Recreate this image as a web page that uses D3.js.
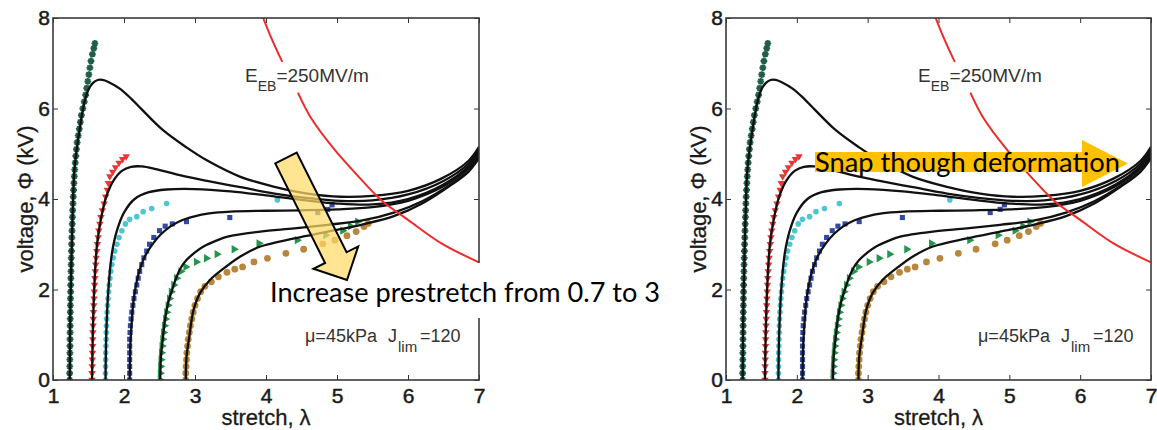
<!DOCTYPE html>
<html><head><meta charset="utf-8">
<script src="https://cdn.jsdelivr.net/npm/d3@7"></script>
<style>body{margin:0;background:#fff}svg{display:block}</style>
</head><body>
<svg id="chart" width="1157" height="430"></svg>
<script>
// ---------- data (stretch λ, voltage Φ in kV) ----------
const xTicks = [1, 2, 3, 4, 5, 6, 7];
const yTicks = [0, 2, 4, 6, 8];
const xLabel = "stretch, λ";
const yLabel = "voltage, Φ (kV)";
const ebLabel = ["E", "EB", "=250MV/m"];
const matLabel = ["μ=45kPa", "J", "lim", "=120"];

// model curves (black), prestretch from low to high
const model1 = [[1.235,0],[1.24,1],[1.25,2],[1.265,3],[1.283,4],[1.3,4.62],[1.33,5.05],[1.36,5.38],[1.41,5.88],[1.45,6.18],[1.5,6.42],[1.56,6.56],[1.63,6.63],[1.7,6.63],[1.8,6.57],[1.94,6.44],[2.1,6.22],[2.25,5.98],[2.55,5.52],[2.88,5.14],[3.16,4.86],[3.64,4.49],[4.12,4.27],[4.59,4.12],[5.05,4.05],[5.5,4.07],[6.0,4.18],[6.47,4.45],[6.85,4.84],[7.0,5.15]];
const model2 = [[1.55,0],[1.56,1],[1.58,2],[1.62,3],[1.68,3.6],[1.75,4.05],[1.85,4.4],[1.97,4.62],[2.1,4.71],[2.25,4.72],[2.45,4.66],[2.8,4.52],[3.17,4.4],[3.64,4.26],[4.12,4.12],[4.59,4.02],[5.05,3.96],[5.5,3.97],[6.0,4.1],[6.5,4.4],[6.85,4.78],[7.0,5.1]];
const model3 = [[1.74,0],[1.75,1],[1.78,2],[1.83,2.8],[1.9,3.3],[2.0,3.7],[2.15,4.0],[2.35,4.15],[2.6,4.21],[3.0,4.22],[3.5,4.17],[4.0,4.08],[4.5,3.98],[5.0,3.9],[5.5,3.88],[6.0,4.0],[6.5,4.32],[6.85,4.72],[7.0,5.05]];
const model4 = [[2.08,0],[2.09,0.8],[2.11,1.3],[2.13,1.7],[2.17,2.1],[2.22,2.43],[2.3,2.75],[2.41,3.02],[2.52,3.22],[2.65,3.39],[2.8,3.52],[2.98,3.61],[3.2,3.68],[3.5,3.72],[4.0,3.74],[4.5,3.75],[5.0,3.77],[5.5,3.82],[6.0,3.96],[6.5,4.28],[6.85,4.68],[7.0,5.0]];
const model5 = [[2.51,0],[2.52,0.5],[2.55,0.96],[2.58,1.35],[2.62,1.69],[2.68,2.0],[2.74,2.28],[2.8,2.48],[2.88,2.65],[3.0,2.82],[3.12,2.95],[3.3,3.08],[3.46,3.17],[3.92,3.28],[4.4,3.35],[4.87,3.43],[5.34,3.52],[5.8,3.7],[6.2,3.95],[6.6,4.32],[6.85,4.62],[7.0,4.95]];
const model6 = [[2.87,0],[2.88,0.5],[2.92,0.96],[2.98,1.55],[3.07,1.92],[3.21,2.21],[3.45,2.52],[3.65,2.74],[3.92,2.95],[4.4,3.13],[4.87,3.28],[5.34,3.43],[5.8,3.62],[6.2,3.9],[6.6,4.3],[6.85,4.6],[7.0,4.9]];
const modelCurves = [model1, model2, model3, model4, model5, model6];

// electrical breakdown line (red), split where the label sits
const breakdownTop = [[3.96,8.0],[4.05,7.65],[4.14,7.33],[4.23,7.03]];
const breakdownBottom = [[4.45,6.35],[4.63,5.8],[4.96,5.1],[5.3,4.5],[5.62,3.98],[6.0,3.54],[6.47,3.02],[7.0,2.6]];

// experiments (markers)
const expDarkGreen = [[1.235,0],[1.235,0.15],[1.236,0.3],[1.237,0.45],[1.238,0.6],[1.239,0.75],[1.24,0.9],[1.241,1.05],[1.242,1.2],[1.243,1.35],[1.244,1.5],[1.245,1.65],[1.246,1.8],[1.248,1.95],[1.249,2.1],[1.251,2.25],[1.253,2.4],[1.255,2.55],[1.257,2.7],[1.26,2.85],[1.262,3.0],[1.265,3.15],[1.268,3.3],[1.271,3.45],[1.274,3.6],[1.277,3.75],[1.281,3.9],[1.285,4.05],[1.29,4.2],[1.295,4.35],[1.3,4.5],[1.306,4.65],[1.313,4.8],[1.321,4.95],[1.33,5.1],[1.34,5.25],[1.355,5.4],[1.37,5.55],[1.385,5.7],[1.4,5.85],[1.42,6.0],[1.44,6.15],[1.46,6.3],[1.475,6.45],[1.49,6.6],[1.505,6.75],[1.52,6.9],[1.535,7.05],[1.555,7.2],[1.575,7.33],[1.59,7.44]];
const expRed = [[1.55,0],[1.55,0.15],[1.552,0.3],[1.554,0.45],[1.556,0.6],[1.558,0.75],[1.56,0.9],[1.562,1.05],[1.565,1.2],[1.568,1.35],[1.571,1.5],[1.574,1.65],[1.578,1.8],[1.582,1.95],[1.586,2.1],[1.59,2.25],[1.596,2.4],[1.602,2.55],[1.609,2.7],[1.617,2.85],[1.626,3.0],[1.635,3.15],[1.646,3.3],[1.66,3.45],[1.675,3.6],[1.695,3.75],[1.72,3.9],[1.742,4.05],[1.765,4.2],[1.78,4.35],[1.8,4.5],[1.84,4.6],[1.88,4.7],[1.93,4.8],[1.98,4.88],[2.03,4.94]];
const expCyan = [[1.74,0],[1.74,0.15],[1.741,0.3],[1.742,0.45],[1.744,0.6],[1.746,0.75],[1.748,0.9],[1.75,1.05],[1.753,1.2],[1.757,1.35],[1.762,1.5],[1.768,1.65],[1.775,1.8],[1.783,1.95],[1.792,2.1],[1.802,2.25],[1.815,2.4],[1.83,2.55],[1.848,2.7],[1.87,2.85],[1.9,3.0],[1.93,3.15],[1.97,3.3],[2.02,3.45],[2.08,3.55],[2.18,3.61],[2.27,3.72],[2.39,3.79],[2.6,3.9],[4.16,3.98]];
const expBlue = [[2.08,0],[2.08,0.15],[2.08,0.3],[2.08,0.45],[2.08,0.6],[2.08,0.75],[2.08,0.9],[2.085,1.05],[2.09,1.2],[2.1,1.35],[2.11,1.5],[2.125,1.65],[2.14,1.8],[2.16,1.95],[2.18,2.1],[2.2,2.25],[2.22,2.4],[2.25,2.55],[2.28,2.7],[2.32,2.85],[2.36,3.0],[2.42,3.15],[2.5,3.3],[2.58,3.4],[2.68,3.45],[2.88,3.5],[3.49,3.59],[4.73,3.7],[4.87,3.77],[4.93,3.87]];
const expGreen = [[2.51,0],[2.51,0.15],[2.515,0.3],[2.52,0.45],[2.527,0.6],[2.535,0.75],[2.545,0.9],[2.556,1.05],[2.57,1.2],[2.585,1.35],[2.6,1.5],[2.62,1.65],[2.64,1.8],[2.665,1.95],[2.7,2.1],[2.74,2.25],[2.8,2.4],[2.87,2.5],[3.02,2.61],[3.16,2.69],[3.31,2.78],[3.55,2.89],[3.9,3.02],[4.44,3.09],[4.84,3.2],[5.08,3.3],[5.19,3.4],[5.29,3.5]];
const expBrown = [[2.87,0],[2.87,0.15],[2.875,0.3],[2.88,0.45],[2.885,0.6],[2.895,0.75],[2.905,0.9],[2.92,1.05],[2.935,1.2],[2.955,1.35],[2.975,1.5],[3.0,1.65],[3.035,1.8],[3.08,1.95],[3.14,2.07],[3.23,2.17],[3.33,2.28],[3.45,2.38],[3.56,2.45],[3.67,2.5],[3.83,2.61],[4.02,2.69],[4.28,2.8],[4.53,2.89],[4.8,3.01],[4.97,3.09],[5.14,3.19],[5.27,3.28],[5.38,3.39],[5.44,3.46]];

// ---------- drawing ----------
const svg = d3.select("#chart");
const FONT = "'Liberation Sans', Arial, sans-serif";
const panels = [{x0: 53, x1: 479}, {x0: 726, x1: 1151}];
const yTop = 18, yBot = 380;

const star = "M-3.4,0H3.4M0,-3.4V3.4M-2.4,-2.4L2.4,2.4M-2.4,2.4L2.4,-2.4";
const triDown = d3.symbol().type(d3.symbolTriangle).size(24)();
const triRight = d3.symbol().type(d3.symbolTriangle).size(30)();
const square = d3.symbol().type(d3.symbolSquare).size(26)();

function drawPanel(p, idx) {
  const x = d3.scaleLinear().domain([1, 7]).range([p.x0, p.x1]);
  const y = d3.scaleLinear().domain([0, 8]).range([yBot, yTop]);
  const g = svg.append("g");
  const line = d3.line().x(d => x(d[0])).y(d => y(d[1])).curve(d3.curveCatmullRom.alpha(0.5));

  const clip = "clip" + idx;
  svg.append("clipPath").attr("id", clip).append("rect")
    .attr("x", p.x0).attr("y", yTop).attr("width", p.x1 - p.x0).attr("height", yBot - yTop);
  const plot = g.append("g").attr("clip-path", `url(#${clip})`);

  // markers
  plot.append("g").selectAll("path").data(expDarkGreen).join("path")
    .attr("d", star).attr("transform", d => `translate(${x(d[0])},${y(d[1])})`)
    .attr("stroke", "#1f5f48").attr("stroke-width", 1.9).attr("fill", "none");
  plot.append("g").selectAll("path").data(expRed).join("path")
    .attr("d", triDown).attr("transform", d => `translate(${x(d[0])},${y(d[1])}) rotate(180)`)
    .attr("fill", "#ee3434");
  plot.append("g").selectAll("circle").data(expCyan).join("circle")
    .attr("cx", d => x(d[0])).attr("cy", d => y(d[1])).attr("r", 2.8).attr("fill", "#4dc6d2");
  plot.append("g").selectAll("path").data(expBlue).join("path")
    .attr("d", square).attr("transform", d => `translate(${x(d[0])},${y(d[1])})`)
    .attr("fill", "#3349a6");
  plot.append("g").selectAll("path").data(expGreen).join("path")
    .attr("d", triRight).attr("transform", d => `translate(${x(d[0])},${y(d[1])}) rotate(90)`)
    .attr("fill", "#25944c");
  plot.append("g").selectAll("circle").data(expBrown).join("circle")
    .attr("cx", d => x(d[0])).attr("cy", d => y(d[1])).attr("r", 3.4).attr("fill", "#b8873d");

  // model curves
  plot.append("g").selectAll("path").data(modelCurves).join("path")
    .attr("d", line).attr("fill", "none").attr("stroke", "#111").attr("stroke-width", 2.3);

  // breakdown line
  plot.append("g").selectAll("path").data([breakdownTop, breakdownBottom]).join("path")
    .attr("d", line).attr("fill", "none").attr("stroke", "#ee2b2b").attr("stroke-width", 2);

  // axes
  const axStyle = sel => {
    sel.select(".domain").remove();
    sel.selectAll(".tick line").attr("stroke", "#333").attr("stroke-width", 1);
    sel.selectAll(".tick text").attr("font-family", FONT).attr("font-size", 21).attr("fill", "#1a1a1a")
      .attr("stroke", "#1a1a1a").attr("stroke-width", 0.5);
  };
  g.append("g").attr("transform", `translate(0,${yBot})`)
    .call(d3.axisBottom(x).tickValues(xTicks).tickSize(-5).tickPadding(8).tickFormat(d3.format("d"))).call(axStyle);
  g.append("g").attr("transform", `translate(0,${yTop})`)
    .call(d3.axisTop(x).tickValues(xTicks).tickSize(-5).tickFormat("")).call(axStyle);
  g.append("g").attr("transform", `translate(${p.x0},0)`)
    .call(d3.axisLeft(y).tickValues(yTicks).tickSize(-5).tickPadding(3).tickFormat(d3.format("d"))).call(axStyle);
  g.append("g").attr("transform", `translate(${p.x1},0)`)
    .call(d3.axisRight(y).tickValues(yTicks).tickSize(-5).tickFormat("")).call(axStyle);

  g.append("rect").attr("x", p.x0).attr("y", yTop).attr("width", p.x1 - p.x0).attr("height", yBot - yTop)
    .attr("fill", "none").attr("stroke", "#3a3a3a").attr("stroke-width", 1.6);

  // axis titles
  g.append("text").attr("x", (p.x0 + p.x1) / 2).attr("y", 425).attr("text-anchor", "middle")
    .attr("font-family", FONT).attr("font-size", 22).attr("fill", "#1a1a1a")
    .attr("stroke", "#1a1a1a").attr("stroke-width", 0.3).text(xLabel);
  g.append("text").attr("transform", `translate(${p.x0 - 20},199) rotate(-90)`).attr("text-anchor", "middle")
    .attr("font-family", FONT).attr("font-size", 22).attr("fill", "#1a1a1a")
    .attr("stroke", "#1a1a1a").attr("stroke-width", 0.3).text(yLabel);

  // in-plot labels
  const eb = g.append("text").attr("x", p.x0 + 192).attr("y", 82)
    .attr("font-family", FONT).attr("font-size", 19).attr("fill", "#333");
  eb.append("tspan").text(ebLabel[0]);
  eb.append("tspan").attr("font-size", 14).attr("dy", 9).text(ebLabel[1]);
  eb.append("tspan").attr("dy", -9).text(ebLabel[2]);

  const ml = g.append("g").attr("font-family", FONT).attr("fill", "#333");
  ml.append("text").attr("x", p.x0 + 252).attr("y", 342).attr("font-size", 18).text(matLabel[0]);
  ml.append("text").attr("x", p.x0 + 335).attr("y", 342).attr("font-size", 18).text(matLabel[1]);
  ml.append("text").attr("x", p.x0 + 345).attr("y", 352).attr("font-size", 15).text(matLabel[2]);
  ml.append("text").attr("x", p.x0 + 367).attr("y", 342).attr("font-size", 18).text(matLabel[3]);
  return {x, y};
}

panels.forEach(drawPanel);

const ANN = "Lato, 'Open Sans', sans-serif";

// Left annotation: white box, arrow, text
svg.append("rect").attr("x", 264).attr("y", 263).attr("width", 404).attr("height", 55).attr("fill", "#fff");
(function () {
  const S = [286, 158], T = [347, 280];
  const dx = T[0] - S[0], dy = T[1] - S[1], L = Math.hypot(dx, dy);
  const u = [dx / L, dy / L], n = [-u[1], u[0]];
  const hb = 12, hh = 25, hl = 25;
  const H = [T[0] - u[0] * hl, T[1] - u[1] * hl];
  const pt = (b, k) => [b[0] + n[0] * k, b[1] + n[1] * k];
  const pts = [pt(S, hb), pt(H, hb), pt(H, hh), T, pt(H, -hh), pt(H, -hb), pt(S, -hb)];
  svg.append("path").attr("d", "M" + pts.map(q => q.join(",")).join("L") + "Z")
    .attr("fill", "#FFD966").attr("fill-opacity", 0.72).attr("stroke", "#000").attr("stroke-width", 2)
    .attr("stroke-linejoin", "miter");
})();
svg.append("text").attr("x", 270).attr("y", 302).attr("font-family", ANN).attr("font-size", 26)
  .attr("textLength", 390).attr("lengthAdjust", "spacingAndGlyphs").attr("fill", "#000")
  .text("Increase prestretch from 0.7 to 3");

// Right annotation: orange arrow with text
svg.append("rect").attr("x", 815).attr("y", 152).attr("width", 268).attr("height", 20).attr("fill", "#FFC000");
svg.append("path").attr("d", "M1082,140L1128,163.5L1082,187Z").attr("fill", "#FFC000");
svg.append("text").attr("x", 815).attr("y", 172).attr("font-family", ANN).attr("font-size", 26)
  .attr("textLength", 305).attr("lengthAdjust", "spacingAndGlyphs").attr("fill", "#000")
  .text("Snap though deformation");
</script>
</body></html>
